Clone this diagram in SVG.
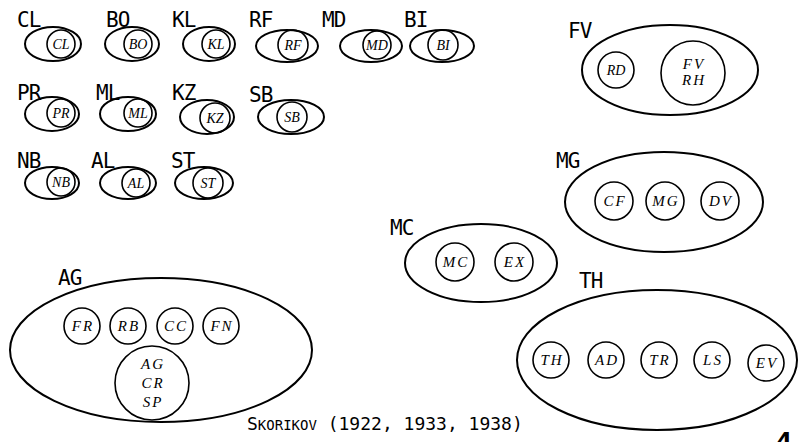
<svg xmlns="http://www.w3.org/2000/svg" width="798" height="442" viewBox="0 0 798 442">
  <style>
    .bg { fill: #ffffff; }
    .grp { fill: none; stroke: #000; stroke-width: 2; }
    .sub { fill: none; stroke: #000; stroke-width: 1.6; }
    .lbl { font-family: "DejaVu Sans Mono", "Liberation Mono", monospace; font-size: 21px; letter-spacing: -1px; fill: #000; }
    .in { font-family: "Liberation Serif", "DejaVu Serif", serif; font-style: italic; font-size: 14px; fill: #000; text-anchor: middle; }
    .sp { letter-spacing: 2px; font-size: 15px; }
    .cap { font-family: "DejaVu Sans Mono", "Liberation Mono", monospace; font-size: 18px; fill: #000; }
    .num { font-family: "Liberation Sans", Arial, sans-serif; font-weight: bold; font-size: 30px; fill: #000; }
  </style>
  <rect class="bg" x="0" y="0" width="798" height="442"/>

  <!-- row 1 -->
  <g id="CL"><text class="lbl" x="17" y="27">CL</text><ellipse class="grp" cx="53" cy="44" rx="28" ry="17"/><circle class="sub" cx="61" cy="44" r="14"/><text class="in" x="61" y="49">CL</text></g>
  <g id="BO"><text class="lbl" x="106" y="27">BO</text><ellipse class="grp" cx="132" cy="44" rx="27" ry="17"/><circle class="sub" cx="138" cy="44" r="14"/><text class="in" x="138" y="49">BO</text></g>
  <g id="KL"><text class="lbl" x="172" y="27">KL</text><ellipse class="grp" cx="209" cy="44" rx="26" ry="17"/><circle class="sub" cx="216" cy="44" r="14"/><text class="in" x="216" y="49">KL</text></g>
  <g id="RF"><text class="lbl" x="249" y="27">RF</text><ellipse class="grp" cx="287" cy="46" rx="31" ry="16"/><circle class="sub" cx="293" cy="45" r="15"/><text class="in" x="293" y="50">RF</text></g>
  <g id="MD"><text class="lbl" x="322" y="27">MD</text><ellipse class="grp" cx="371" cy="46" rx="31" ry="16"/><circle class="sub" cx="377" cy="45" r="14"/><text class="in" x="377" y="50">MD</text></g>
  <g id="BI"><text class="lbl" x="404" y="27">BI</text><ellipse class="grp" cx="442" cy="46" rx="32" ry="16"/><circle class="sub" cx="443" cy="45" r="15"/><text class="in" x="443" y="50">BI</text></g>

  <!-- row 2 -->
  <g id="PR"><text class="lbl" x="17" y="100">PR</text><ellipse class="grp" cx="52" cy="114" rx="27" ry="17"/><circle class="sub" cx="61" cy="113" r="14"/><text class="in" x="61" y="118">PR</text></g>
  <g id="ML"><text class="lbl" x="96" y="100">ML</text><ellipse class="grp" cx="128" cy="114" rx="28" ry="17"/><circle class="sub" cx="138" cy="113" r="14"/><text class="in" x="138" y="118">ML</text></g>
  <g id="KZ"><text class="lbl" x="172" y="100">KZ</text><ellipse class="grp" cx="207" cy="117" rx="27" ry="17"/><circle class="sub" cx="215" cy="118" r="15"/><text class="in" x="215" y="123">KZ</text></g>
  <g id="SB"><text class="lbl" x="249" y="102">SB</text><ellipse class="grp" cx="291" cy="117" rx="33" ry="17"/><circle class="sub" cx="292" cy="117" r="15"/><text class="in" x="292" y="122">SB</text></g>

  <!-- row 3 -->
  <g id="NB"><text class="lbl" x="17" y="168">NB</text><ellipse class="grp" cx="52" cy="183" rx="27" ry="16"/><circle class="sub" cx="61" cy="182" r="14"/><text class="in" x="61" y="187">NB</text></g>
  <g id="AL"><text class="lbl" x="91" y="168">AL</text><ellipse class="grp" cx="128" cy="183" rx="28" ry="16"/><circle class="sub" cx="136" cy="183" r="14"/><text class="in" x="136" y="188">AL</text></g>
  <g id="ST"><text class="lbl" x="171" y="168">ST</text><ellipse class="grp" cx="204" cy="183" rx="29" ry="16"/><circle class="sub" cx="208" cy="183" r="15"/><text class="in" x="208" y="188">ST</text></g>

  <!-- FV group -->
  <g id="FV">
    <text class="lbl" x="568" y="38">FV</text>
    <ellipse class="grp" cx="670" cy="70" rx="88" ry="45"/>
    <circle class="sub" cx="616" cy="70" r="18"/><text class="in" x="616" y="75">RD</text>
    <circle class="sub" cx="693" cy="73" r="32"/>
    <text class="in sp" x="694" y="69">FV</text><text class="in sp" x="694" y="85">RH</text>
  </g>

  <!-- MG group -->
  <g id="MG">
    <text class="lbl" x="556" y="168">MG</text>
    <ellipse class="grp" cx="664" cy="202" rx="99" ry="50"/>
    <circle class="sub" cx="614" cy="201" r="19"/><text class="in sp" x="615" y="206">CF</text>
    <circle class="sub" cx="665" cy="201" r="19"/><text class="in sp" x="666" y="206">MG</text>
    <circle class="sub" cx="720" cy="201" r="19"/><text class="in sp" x="721" y="206">DV</text>
  </g>

  <!-- MC group -->
  <g id="MC">
    <text class="lbl" x="390" y="235">MC</text>
    <ellipse class="grp" cx="481" cy="263" rx="76" ry="39"/>
    <circle class="sub" cx="455" cy="262" r="19"/><text class="in sp" x="456" y="267">MC</text>
    <circle class="sub" cx="514" cy="262" r="19"/><text class="in sp" x="515" y="267">EX</text>
  </g>

  <!-- TH group -->
  <g id="TH">
    <text class="lbl" x="579" y="288">TH</text>
    <ellipse class="grp" cx="657" cy="360" rx="140" ry="70"/>
    <circle class="sub" cx="551" cy="360" r="18"/><text class="in sp" x="552" y="365">TH</text>
    <circle class="sub" cx="606" cy="360" r="18"/><text class="in sp" x="607" y="365">AD</text>
    <circle class="sub" cx="659" cy="360" r="18"/><text class="in sp" x="660" y="365">TR</text>
    <circle class="sub" cx="712" cy="360" r="18"/><text class="in sp" x="713" y="365">LS</text>
    <circle class="sub" cx="766" cy="363" r="18"/><text class="in sp" x="767" y="368">EV</text>
  </g>

  <!-- AG group -->
  <g id="AG">
    <text class="lbl" x="58" y="285">AG</text>
    <ellipse class="grp" cx="161" cy="350" rx="151" ry="72"/>
    <circle class="sub" cx="82" cy="326" r="18"/><text class="in sp" x="83" y="331">FR</text>
    <circle class="sub" cx="128" cy="326" r="18"/><text class="in sp" x="129" y="331">RB</text>
    <circle class="sub" cx="175" cy="326" r="18"/><text class="in sp" x="176" y="331">CC</text>
    <circle class="sub" cx="221" cy="326" r="18"/><text class="in sp" x="222" y="331">FN</text>
    <circle class="sub" cx="152" cy="383" r="37"/>
    <text class="in sp" x="153" y="369">AG</text>
    <text class="in sp" x="153" y="388">CR</text>
    <text class="in sp" x="153" y="407">SP</text>
  </g>

  <!-- connectors: none in this figure -->
  <g id="connectors"></g>

  <!-- caption -->
  <text class="cap" x="247" y="430">S<tspan font-size="14">KORIKOV</tspan> (1922, 1933, 1938)</text>
  <text class="num" x="775" y="452">4</text>
</svg>
